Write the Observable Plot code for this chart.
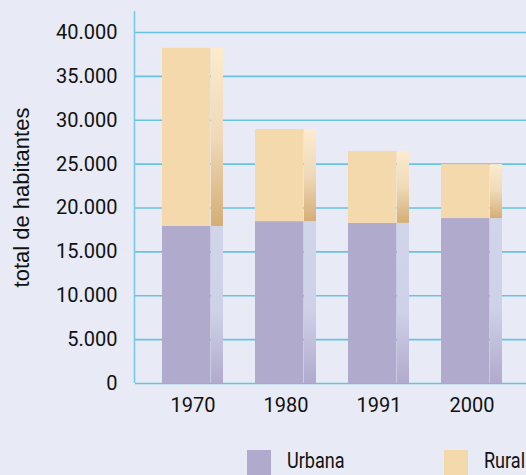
<!DOCTYPE html>
<html><head><meta charset="utf-8">
<script src="https://cdn.jsdelivr.net/npm/d3@7"></script>
<script src="https://cdn.jsdelivr.net/npm/@observablehq/plot@0.6"></script>
<style>
html,body{margin:0;padding:0;background:#e8eaf5;overflow:hidden;}
#chart svg{display:block}
#legend{position:relative;height:30px;font-family:Roboto,"Liberation Sans",sans-serif;font-size:22px;color:#111}
#legend .sw{position:absolute;top:5px;width:24px;height:25px}
#legend .lb{position:absolute;top:8px;line-height:16px;white-space:nowrap;transform:scaleX(0.82);transform-origin:0 50%}
</style></head><body>
<div id="chart"></div><div id="legend"></div>
<script>
const years = ["1970", "1980", "1991", "2000"];
const urbana = [17900, 18450, 18250, 18800];
const rural = [20300, 10500, 8200, 6150];
const series = ["Urbana", "Rural"];
const seriesColors = ["#b0aacc", "#f4d9ad"];
const yTicks = [0, 5000, 10000, 15000, 20000, 25000, 30000, 35000, 40000];
const yLabel = "total de habitantes";

const rows = [];
years.forEach((y, i) => {
  rows.push({year: y, type: series[0], y1: 0, y2: urbana[i]});
  rows.push({year: y, type: series[1], y1: urbana[i], y2: urbana[i] + rural[i]});
});
const fmt = d => d3.format(",")(d).replace(/,/g, ".");

const gradients = () => {
  const defs = d3.create("svg:defs");
  const add = (id, stops) => {
    const g = defs.append("linearGradient").attr("id", id)
      .attr("x1", 0).attr("y1", 0).attr("x2", 0).attr("y2", 1);
    stops.forEach(([o, c]) => g.append("stop").attr("offset", o).attr("stop-color", c));
  };
  add("gU", [[0, "#d1d5ea"], [0.55, "#ced1e8"], [1, "#b1aacd"]]);
  add("gR", [[0, "#fcebcd"], [0.5, "#efd9b8"], [1, "#d4ae76"]]);
  return defs.node();
};

const axisLine = (index, scales, values, dims) => {
  return d3.create("svg:line")
    .attr("x1", dims.marginLeft - 0.5).attr("x2", dims.marginLeft - 0.5)
    .attr("y1", dims.marginTop).attr("y2", dims.height - dims.marginBottom)
    .attr("stroke", "#78cbe8").attr("stroke-width", 1.6).node();
};

const chart = Plot.plot({
  width: 526, height: 445,
  marginLeft: 135, marginRight: 0, marginTop: 11, marginBottom: 62,
  style: {background: "#e8eaf5", fontFamily: 'Roboto, "Liberation Sans", sans-serif', fontSize: "20px", color: "#111"},
  x: {domain: years, range: [135, 529.7], paddingInner: 0.345, paddingOuter: 0.274, label: null},
  y: {domain: [0, 42400], label: null},
  color: {domain: series, range: seriesColors},
  marks: [
    gradients,
    Plot.ruleY(yTicks, {stroke: "#67c3e4", strokeWidth: 1.6}),
    Plot.barY(rows, {x: "year", y1: "y1", y2: "y2", fill: "type", insetRight: 12.5}),
    Plot.barY(rows.filter(d => d.type === series[0]), {x: "year", y1: "y1", y2: "y2", fill: "url(#gU)", insetLeft: 49}),
    Plot.barY(rows.filter(d => d.type === series[1]), {x: "year", y1: "y1", y2: "y2", fill: "url(#gR)", insetLeft: 49}),
    axisLine,
    Plot.axisY({ticks: yTicks, tickFormat: fmt, tickSize: 0, tickPadding: 18, label: null}),
    Plot.axisX({tickSize: 0, tickPadding: 14, label: null}),
    Plot.text([yLabel], {frameAnchor: "left", textAnchor: "middle", rotate: -90, dx: -113.5, fontFamily: '"Liberation Sans", Arial, sans-serif', fontSize: 22, fill: "#111"})
  ]
});
document.getElementById("chart").appendChild(chart);

const legendX = [247, 444];
const legend = document.getElementById("legend");
series.forEach((s, i) => {
  const sw = document.createElement("div");
  sw.className = "sw"; sw.style.left = legendX[i] + "px"; sw.style.background = seriesColors[i];
  const lb = document.createElement("div");
  lb.className = "lb"; lb.style.left = (legendX[i] + 40) + "px"; lb.textContent = s;
  legend.appendChild(sw); legend.appendChild(lb);
});
</script>
</body></html>
